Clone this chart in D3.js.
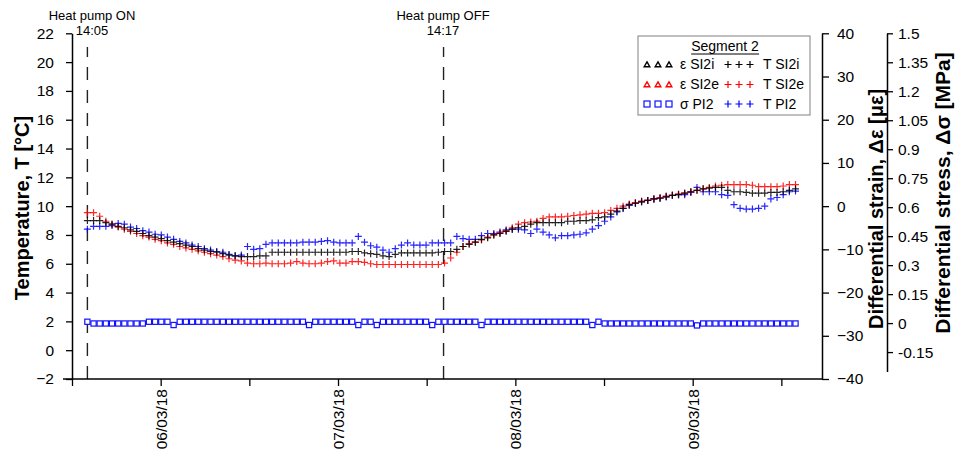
<!DOCTYPE html>
<html><head><meta charset="utf-8">
<script src="https://cdn.jsdelivr.net/npm/d3@7"></script>
<style>
body{margin:0;background:#fff}
svg{display:block}
text{font-family:"Liberation Sans",Arial,sans-serif;fill:#000}
</style>
</head><body>
<svg id="c" width="957" height="458"></svg>
<script>
// ---------- data ----------
const startTime = new Date(2018, 2, 5, 14, 5);   // first sample
const stepMinutes = 50;                          // sampling interval
const heatOn = new Date(2018, 2, 5, 14, 5);
const heatOff = new Date(2018, 2, 7, 14, 17);

const tSI2i = [
 9.0,9.0,9.0,8.85,8.75,8.6,8.5,8.35,8.25,8.1,
 7.95,7.85,7.75,7.6,7.5,7.4,7.3,7.2,7.05,6.95,
 6.85,6.8,6.7,6.6,6.55,6.5,6.5,6.5,6.55,6.55,
 6.8,6.8,6.8,6.8,6.8,6.8,6.8,6.8,6.8,6.8,
 6.8,6.8,6.8,6.85,6.85,6.75,6.7,6.65,6.55,6.5,
 6.65,6.75,6.75,6.75,6.75,6.75,6.75,6.8,6.85,6.85,
 7.0,7.2,7.35,7.5,7.7,7.8,8.0,8.1,8.25,8.4,
 8.5,8.6,8.75,8.85,8.85,8.85,8.85,8.85,8.95,8.95,
 9.0,9.0,9.05,9.2,9.25,9.45,9.65,9.85,10.1,10.2,
 10.3,10.4,10.5,10.55,10.65,10.75,10.8,10.9,11.0,11.1,
 11.2,11.25,11.3,11.3,11.1,11.0,11.0,10.95,10.9,10.9,
 10.9,10.95,10.95,11.0,11.1,11.2
];
const tSI2e = [
 9.55,9.55,9.3,8.95,8.75,8.55,8.4,8.25,8.1,7.95,
 7.85,7.7,7.6,7.45,7.35,7.2,7.1,7.0,6.9,6.8,
 6.7,6.6,6.5,6.35,6.25,6.2,6.05,6.0,6.0,6.05,
 6.0,6.0,6.0,6.05,6.15,6.05,6.0,6.0,6.05,6.15,
 6.2,6.05,6.05,6.15,6.15,6.1,6.0,5.95,5.95,5.95,
 5.95,5.95,5.95,5.95,5.95,5.95,5.95,5.95,6.05,6.4,
 6.8,7.2,7.4,7.5,7.65,7.85,8.0,8.15,8.3,8.5,
 8.75,8.85,8.9,8.95,9.15,9.25,9.25,9.25,9.3,9.35,
 9.4,9.45,9.5,9.5,9.55,9.7,9.85,10.0,10.15,10.25,
 10.35,10.4,10.5,10.6,10.7,10.75,10.85,10.9,11.0,11.1,
 11.2,11.3,11.4,11.45,11.5,11.5,11.5,11.5,11.45,11.35,
 11.35,11.35,11.35,11.4,11.5,11.5
];
const tPI2 = [
 8.4,8.6,8.6,8.6,8.65,8.8,8.75,8.55,8.45,8.3,
 8.2,8.05,8.0,7.85,7.7,7.55,7.45,7.3,7.2,7.05,
 6.95,6.85,6.8,6.65,6.55,6.6,7.2,7.0,7.05,7.35,
 7.45,7.45,7.45,7.45,7.45,7.5,7.5,7.5,7.55,7.6,
 7.5,7.45,7.45,7.45,7.9,7.5,7.25,7.15,6.95,6.8,
 7.05,7.3,7.45,7.3,7.3,7.3,7.45,7.45,7.45,7.45,
 7.9,7.75,7.7,7.7,7.95,8.1,8.1,8.2,8.35,8.4,
 8.4,8.35,8.1,8.4,8.2,8.0,7.8,7.95,7.95,8.0,
 8.05,8.15,8.4,8.65,8.95,9.25,9.6,9.85,10.05,10.2,
 10.3,10.4,10.5,10.55,10.65,10.75,10.8,10.8,10.95,11.3,
 11.0,11.0,11.0,10.8,10.75,10.1,9.85,9.8,9.8,9.85,
 10.0,10.5,10.6,10.8,11.0,11.05
];
const sPI2 = [
 0.007,
 -0.002,-0.002,-0.002,-0.002,-0.002,-0.002,-0.002,-0.002,-0.002,
 0.007,0.007,0.007,0.007,
 -0.010,
 0.007,0.007,0.007,0.007,0.007,0.007,0.007,0.007,0.007,0.007,0.007,0.007,0.007,0.007,0.007,0.007,0.007,0.007,0.007,0.007,0.007,
 -0.010,
 0.007,0.007,0.007,0.007,0.007,0.007,0.007,
 -0.010,
 0.007,0.007,
 -0.010,
 0.007,0.007,0.007,0.007,0.007,0.007,0.007,0.007,
 -0.010,
 0.007,0.007,0.007,0.007,0.007,0.007,0.007,
 -0.010,
 0.007,0.007,0.007,0.007,0.007,0.007,0.007,0.007,0.007,0.007,0.007,0.007,0.007,0.007,0.007,0.007,0.007,
 -0.010,
 0.007,
 -0.002,-0.002,-0.002,-0.002,-0.002,-0.002,-0.002,-0.002,-0.002,-0.002,-0.002,-0.002,-0.002,-0.002,-0.002,
 -0.012,
 -0.002,-0.002,-0.002,-0.002,-0.002,-0.002,-0.002,-0.002,-0.002,-0.002,-0.002,-0.002,-0.002,-0.002,-0.002,-0.002
];

const tempTicks = [-2,0,2,4,6,8,10,12,14,16,18,20,22];
const strainTicks = [-40,-30,-20,-10,0,10,20,30,40];
const stressTicks = [-0.15,0,0.15,0.3,0.45,0.6,0.75,0.9,1.05,1.2,1.35,1.5];
const xTickDates = [
 new Date(2018,2,5,12), new Date(2018,2,6,0), new Date(2018,2,6,12),
 new Date(2018,2,7,0), new Date(2018,2,7,12), new Date(2018,2,8,0),
 new Date(2018,2,8,12), new Date(2018,2,9,0), new Date(2018,2,9,12)
];

const times = tSI2i.map((_, i) => new Date(startTime.getTime() + i * stepMinutes * 60000));

// ---------- scales ----------
const svg = d3.select("#c");
const x = d3.scaleTime()
  .domain([new Date(2018,2,5,12,0), new Date(2018,2,9,17,30)])
  .range([72, 822]);
const yT = d3.scaleLinear().domain([-2, 22]).range([379, 33.3]);
const yE = d3.scaleLinear().domain([-40, 40]).range([379, 33.3]);
const yS = d3.scaleLinear().domain([-0.25, 1.5]).range([371.4, 33.3]);

const FONT_TICK = 15.5;

function styleAxis(g) {
  g.select(".domain").attr("stroke", "#000").attr("stroke-width", 1.5);
  g.selectAll(".tick line").attr("stroke", "#000").attr("stroke-width", 1.3);
  g.selectAll(".tick text").attr("font-size", FONT_TICK).attr("font-family", '"Liberation Sans",Arial,sans-serif').attr("fill", "#000");
}

// ---------- dashed heat pump lines ----------
[heatOn, heatOff].forEach(d => {
  svg.append("line")
    .attr("x1", x(d)).attr("x2", x(d))
    .attr("y1", 379).attr("y2", 47)
    .attr("stroke", "#222").attr("stroke-width", 1.4)
    .attr("stroke-dasharray", "13,10");
});

// ---------- axes ----------
const gL = svg.append("g").attr("transform", "translate(72,0)")
  .call(d3.axisLeft(yT).tickValues(tempTicks).tickSize(6).tickSizeOuter(0).tickPadding(12).tickFormat(d3.format("d")));
styleAxis(gL);

const gX = svg.append("g").attr("transform", "translate(0,379)")
  .call(d3.axisBottom(x).tickValues(xTickDates).tickSize(7).tickSizeOuter(0)
    .tickFormat(d => d.getHours() === 0 ? d3.timeFormat("%d/%m/%y")(d) : ""));
styleAxis(gX);
gX.select(".domain").attr("d", "M63,0H822");
gX.selectAll(".tick text")
  .attr("transform", "rotate(-90)")
  .attr("text-anchor", "end")
  .attr("x", -10).attr("y", 0).attr("dy", "0.35em");

const gE = svg.append("g").attr("transform", "translate(822,0)")
  .call(d3.axisRight(yE).tickValues(strainTicks).tickSize(7).tickSizeOuter(0).tickPadding(8).tickFormat(d3.format("d")));
styleAxis(gE);

const gS = svg.append("g").attr("transform", "translate(887,0)")
  .call(d3.axisRight(yS).tickValues(stressTicks).tickSize(6).tickSizeOuter(0).tickPadding(5).tickFormat(d => String(+d.toFixed(2))));
styleAxis(gS);

// ---------- axis titles ----------
function vTitle(cx, cy, txt, fs) {
  svg.append("text")
    .attr("transform", `translate(${cx},${cy}) rotate(-90)`)
    .attr("text-anchor", "middle").attr("dy", "0.35em")
    .attr("font-size", fs).attr("font-weight", "bold")
    .text(txt);
}
vTitle(22, 208, "Temperature, T [°C]", 20);
vTitle(876, 209, "Differential strain, Δε [με]", 20);
vTitle(943, 193, "Differential stress, Δσ [MPa]", 21);

// ---------- annotations ----------
function annot(cx, l1, l2) {
  svg.append("text").attr("x", cx).attr("y", 20).attr("text-anchor", "middle").attr("font-size", 13).text(l1);
  svg.append("text").attr("x", cx).attr("y", 35).attr("text-anchor", "middle").attr("font-size", 13).text(l2);
}
annot(92, "Heat pump ON", "14:05");
annot(443, "Heat pump OFF", "14:17");

// ---------- marks ----------
const plusPath = "M-3.5,0H3.5M0,-3.5V3.5";

svg.append("g").selectAll("rect").data(sPI2).join("rect")
  .attr("x", (d, i) => x(times[i]) - 2.6)
  .attr("y", d => yS(d) - 2.6)
  .attr("width", 5.2).attr("height", 5.2)
  .attr("fill", "#fff").attr("stroke", "#1010ff").attr("stroke-width", 1.2);

function plusSeries(vals, color) {
  svg.append("g").selectAll("path").data(vals).join("path")
    .attr("transform", (d, i) => `translate(${x(times[i])},${yT(d)})`)
    .attr("d", plusPath)
    .attr("stroke", color).attr("stroke-width", 1.2).attr("stroke-opacity", 0.85)
    .attr("fill", "none");
}
plusSeries(tPI2, "#0000ff");
plusSeries(tSI2e, "#ff0000");
plusSeries(tSI2i, "#000000");

// ---------- legend ----------
const lg = svg.append("g");
lg.append("rect").attr("x", 638).attr("y", 36).attr("width", 172).attr("height", 79)
  .attr("fill", "#fff").attr("stroke", "#808080").attr("stroke-width", 1);
const title = lg.append("text").attr("x", 725).attr("y", 51).attr("text-anchor", "middle")
  .attr("font-size", 14).text("Segment 2");
const tb = title.node().getBBox();
lg.append("line").attr("x1", tb.x).attr("x2", tb.x + tb.width).attr("y1", 54).attr("y2", 54)
  .attr("stroke", "#000").attr("stroke-width", 1);

const legendRows = [
  {sym: "tri", symColor: "#000", l1: "ε SI2i", plusColor: "#000", l2: "T SI2i", y: 64.5},
  {sym: "tri", symColor: "#ff0000", l1: "ε SI2e", plusColor: "#ff0000", l2: "T SI2e", y: 84.5},
  {sym: "sq", symColor: "#1010ff", l1: "σ PI2", plusColor: "#0000ff", l2: "T PI2", y: 104}
];
const symX = [647, 658, 669];
const plusX = [728, 739, 750];
legendRows.forEach(r => {
  symX.forEach(sx => {
    if (r.sym === "tri") {
      lg.append("path").attr("transform", `translate(${sx},${r.y})`)
        .attr("d", "M0,-2.6L2.8,2.2H-2.8Z")
        .attr("fill", "none").attr("stroke", r.symColor).attr("stroke-width", 1.4);
    } else {
      lg.append("rect").attr("x", sx - 3).attr("y", r.y - 3).attr("width", 6).attr("height", 6)
        .attr("fill", "#fff").attr("stroke", r.symColor).attr("stroke-width", 1.2);
    }
  });
  plusX.forEach(px => {
    lg.append("path").attr("transform", `translate(${px},${r.y})`).attr("d", plusPath)
      .attr("stroke", r.plusColor).attr("stroke-width", 1.2).attr("fill", "none");
  });
  lg.append("text").attr("x", 680).attr("y", r.y).attr("dy", "0.35em").attr("font-size", 14).text(r.l1);
  lg.append("text").attr("x", 763).attr("y", r.y).attr("dy", "0.35em").attr("font-size", 14).text(r.l2);
});
</script>
</body></html>
